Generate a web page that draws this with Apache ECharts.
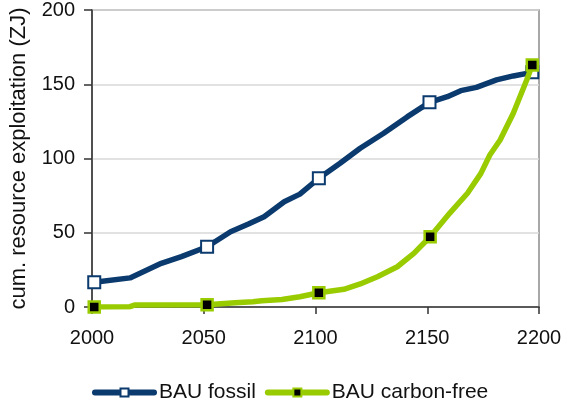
<!DOCTYPE html>
<html>
<head>
<meta charset="utf-8">
<script src="https://cdn.jsdelivr.net/npm/echarts@6/dist/echarts.min.js"></script>
<style>
html,body{margin:0;padding:0;background:#fff;}
#chart{width:565px;height:405px;}
</style>
</head>
<body>
<div id="chart"></div>
<script>
// Data
const fossilYears  = [2001, 2017, 2031, 2040, 2051.5, 2062, 2070, 2077, 2086, 2093, 2101.5, 2111, 2120, 2130.5, 2141, 2151, 2159, 2165, 2172, 2181, 2188.5, 2197];
const fossilValues = [16.6, 19.6, 29.4, 33.9, 40.6, 50.7, 55.9, 60.8, 70.9, 76.0, 86.7, 96.8, 106.9, 117.0, 128.0, 137.8, 141.6, 145.7, 147.9, 152.9, 155.6, 158.0];
const cfreeYears   = [2001, 2017, 2019, 2051.5, 2064, 2072, 2076, 2085, 2093, 2101.5, 2112.7, 2120, 2127.7, 2136.6, 2144, 2151.3, 2160, 2168, 2174, 2178, 2182.6, 2188.5, 2194.5, 2197];
const cfreeValues  = [0.0, 0.2, 1.3, 1.5, 2.9, 3.5, 4.2, 5.0, 6.9, 9.6, 11.9, 15.5, 20.4, 27.1, 36.1, 47.3, 63.1, 76.6, 90.0, 102.4, 112.5, 130.5, 152.9, 163.0];
const markerYearsFossil = [2001, 2051.5, 2101.5, 2151, 2197];
const markerYearsCfree  = [2001, 2051.5, 2101.5, 2151.3, 2197];
const seriesNames = ['BAU fossil', 'BAU carbon-free'];
const yTitle = 'cum. resource exploitation (ZJ)';

const FONT = "'Liberation Sans', Arial, sans-serif";
const NAVY = '#0b3a6e';
const LIME = '#99cc00';

function build(years, values, marks) {
  return years.map((y, i) => marks.indexOf(y) >= 0
    ? { value: [y, values[i]] }
    : { value: [y, values[i]], symbol: 'none' });
}

const chart = echarts.init(document.getElementById('chart'), null, { renderer: 'canvas' });
chart.setOption({
  animation: false,
  backgroundColor: '#ffffff',
  grid: { left: 90, right: 26, top: 10, bottom: 98, show: true, borderColor: '#8c8c8c', borderWidth: 1.5, backgroundColor: 'transparent' },
  legend: {
    left: 92, top: 382, padding: 0,
    itemWidth: 59, itemHeight: 10, itemGap: 9,
    lineStyle: { width: 6, cap: 'round' },
    textStyle: { fontFamily: FONT, fontSize: 21, color: '#111' },
    data: seriesNames
  },
  xAxis: {
    type: 'value', min: 2000, max: 2200, interval: 50,
    axisLine: { show: true, lineStyle: { color: '#333', width: 1.5 } },
    axisTick: { show: true, length: 7, lineStyle: { color: '#333', width: 1.5 } },
    splitLine: { show: false },
    axisLabel: { fontFamily: FONT, fontSize: 20, color: '#111', margin: 21, formatter: v => String(v) }
  },
  yAxis: {
    type: 'value', min: 0, max: 200, interval: 50,
    name: yTitle, nameLocation: 'middle', nameRotate: 90, nameGap: 62,
    nameTextStyle: { fontFamily: FONT, fontSize: 22, color: '#111' },
    axisLine: { show: true, lineStyle: { color: '#333', width: 1.5 } },
    axisTick: { show: true, length: 8, lineStyle: { color: '#333', width: 1.5 } },
    splitLine: { show: true, lineStyle: { color: '#d9d9d9', width: 1.5 } },
    axisLabel: { fontFamily: FONT, fontSize: 20, color: '#111', margin: 17 }
  },
  series: [
    {
      name: seriesNames[0], type: 'line', data: build(fossilYears, fossilValues, markerYearsFossil),
      symbol: 'rect', symbolSize: 12, showAllSymbol: true,
      lineStyle: { color: NAVY, width: 5.5, join: 'round', cap: 'round' },
      itemStyle: { color: '#ffffff', borderColor: NAVY, borderWidth: 2 },
      z: 2
    },
    {
      name: seriesNames[1], type: 'line', data: build(cfreeYears, cfreeValues, markerYearsCfree),
      symbol: 'rect', symbolSize: 11, showAllSymbol: true,
      lineStyle: { color: LIME, width: 5.5, join: 'round', cap: 'round' },
      itemStyle: { color: '#000000', borderColor: LIME, borderWidth: 2.5 },
      z: 3
    }
  ]
});
</script>
</body>
</html>
